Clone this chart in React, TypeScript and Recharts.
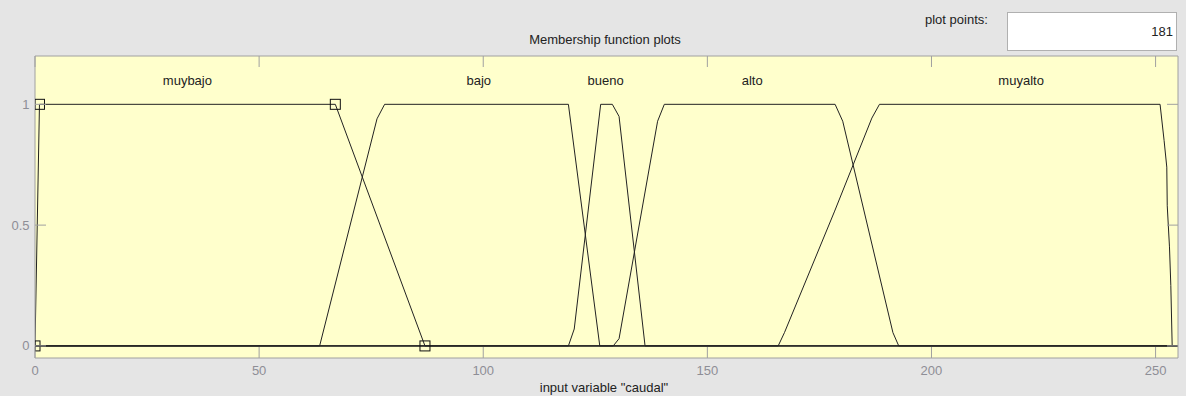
import React from 'react';
import { ComposedChart, Line, Scatter, XAxis, YAxis, CartesianGrid } from 'recharts';

type Pt = { x: number; y: number };

// axis ticks
const xTicks = [0, 50, 100, 150, 200, 250];
const yTicks = [0, 0.5, 1];

// membership functions of "caudal", as polylines (x, degree)
const muybajo: Pt[] = [
  { x: 0, y: 0 }, { x: 1, y: 1 }, { x: 67, y: 1 }, { x: 87, y: 0 }, { x: 255, y: 0 },
];
const bajo: Pt[] = [
  { x: 0, y: 0 }, { x: 63.5, y: 0 }, { x: 76.3, y: 0.94 }, { x: 78, y: 1 },
  { x: 119, y: 1 }, { x: 126, y: 0 }, { x: 255, y: 0 },
];
const bueno: Pt[] = [
  { x: 0, y: 0 }, { x: 119, y: 0 }, { x: 120.3, y: 0.07 }, { x: 126.2, y: 1 },
  { x: 128.8, y: 1 }, { x: 130.3, y: 0.95 }, { x: 136.1, y: 0 }, { x: 255, y: 0 },
];
const alto: Pt[] = [
  { x: 0, y: 0 }, { x: 129, y: 0 }, { x: 130.3, y: 0.03 }, { x: 138.9, y: 0.93 },
  { x: 140.4, y: 1 }, { x: 178.5, y: 1 }, { x: 180.2, y: 0.93 }, { x: 191.4, y: 0.055 },
  { x: 192.7, y: 0 }, { x: 255, y: 0 },
];
const muyalto: Pt[] = [
  { x: 0, y: 0 }, { x: 165.8, y: 0 }, { x: 167.2, y: 0.055 }, { x: 178.4, y: 0.558 },
  { x: 186.7, y: 0.943 }, { x: 188.4, y: 1 }, { x: 251, y: 1 }, { x: 251.9, y: 0.85 },
  { x: 252.5, y: 0.74 }, { x: 252.6, y: 0.58 }, { x: 253.1, y: 0.41 }, { x: 253.4, y: 0.25 },
  { x: 253.7, y: 0 }, { x: 255, y: 0 },
];

// parameters of the selected function (muybajo), shown as square handles
const muybajoParams: Pt[] = [
  { x: 0, y: 0 }, { x: 1, y: 1 }, { x: 67, y: 1 }, { x: 87, y: 0 },
];

const mfNames = ['muybajo', 'bajo', 'bueno', 'alto', 'muyalto'];
const mfNameX = [34, 99, 127.3, 160, 220];
const nameRow = mfNames.map((name, i) => ({ x: mfNameX[i], y: 1.1, name }));

const series = [muybajo, bajo, bueno, alto, muyalto];

const W = 1186;
const H = 396;
const PLOT_LEFT = 35;
const PLOT_RIGHT = 1178;
const PLOT_TOP = 56;
const PLOT_BOTTOM = 358;
const TICK_LEN = 11;

const AXIS = '#a0a0a0';
const TICK_TEXT = '#8e8e96';
const INK = '#222';
const FONT = '"Liberation Sans", Arial, sans-serif';
const FS = 13;

const BottomTick = (props: any) => {
  const { x, payload } = props;
  return (
    <g>
      <line x1={x} x2={x} y1={PLOT_BOTTOM} y2={PLOT_BOTTOM - TICK_LEN} stroke={AXIS} />
      <text x={x} y={PLOT_BOTTOM + 17} textAnchor="middle" fill={TICK_TEXT} fontSize={FS} fontFamily={FONT}>
        {payload.value}
      </text>
    </g>
  );
};

const TopTick = (props: any) => {
  const { x } = props;
  return <line x1={x} x2={x} y1={PLOT_TOP} y2={PLOT_TOP + TICK_LEN} stroke={AXIS} />;
};

const LeftTick = (props: any) => {
  const { y, payload } = props;
  return (
    <g>
      <line x1={PLOT_LEFT} x2={PLOT_LEFT + TICK_LEN} y1={y} y2={y} stroke={AXIS} />
      <text x={PLOT_LEFT - 5.5} y={y + 4.5} textAnchor="end" fill={TICK_TEXT} fontSize={FS} fontFamily={FONT}>
        {payload.value}
      </text>
    </g>
  );
};

const RightTick = (props: any) => {
  const { y } = props;
  return <line x1={PLOT_RIGHT} x2={PLOT_RIGHT - TICK_LEN} y1={y} y2={y} stroke={AXIS} />;
};

// hollow square, clipped at the left edge of the axes
const Handle = (props: any) => {
  const { cx, cy } = props;
  const left = Math.max(cx - 5, PLOT_LEFT);
  const right = cx + 5;
  return <rect x={left} y={cy - 5} width={right - left} height={10} fill="none" stroke="#111" strokeWidth={1} />;
};

const NameLabel = (props: any) => {
  const { cx, cy, payload } = props;
  return (
    <text x={cx} y={cy + 4.5} textAnchor="middle" fill={INK} fontSize={FS} fontFamily={FONT}>
      {payload.name}
    </text>
  );
};

const textRow: React.CSSProperties = {
  position: 'absolute',
  fontSize: FS,
  lineHeight: '16px',
  color: INK,
  whiteSpace: 'nowrap',
};

export default function App() {
  return (
    <div
      style={{
        position: 'absolute',
        left: 0,
        top: 0,
        width: W,
        height: H,
        background: '#e5e5e5',
        fontFamily: FONT,
        overflow: 'hidden',
      }}
    >
      <div style={{ ...textRow, left: 0, width: 1210, top: 32, textAlign: 'center' }}>
        Membership function plots
      </div>
      <div style={{ ...textRow, left: 925, top: 12 }}>plot points:</div>
      <div
        style={{
          position: 'absolute',
          left: 1007,
          top: 12,
          width: 165,
          height: 37,
          background: '#fff',
          border: '1px solid #b0b0b0',
          fontSize: FS,
          color: INK,
          textAlign: 'right',
          lineHeight: '38px',
          paddingRight: 3,
          boxSizing: 'content-box',
        }}
      >
        181
      </div>
      <div style={{ ...textRow, left: 0, width: 1208, top: 380, textAlign: 'center' }}>
        input variable "caudal"
      </div>

      <div style={{ position: 'absolute', left: 0, top: 0 }}>
        <ComposedChart width={W} height={H} margin={{ top: 46, right: 0, bottom: 0, left: 0 }}>
          <CartesianGrid horizontal={false} vertical={false} fill="#ffffcc" fillOpacity={1} />
          <XAxis
            dataKey="x"
            type="number"
            domain={[0, 255]}
            ticks={xTicks}
            height={38}
            tickLine={false}
            axisLine={{ stroke: AXIS }}
            tick={<BottomTick />}
            allowDataOverflow
          />
          <XAxis
            xAxisId="top"
            orientation="top"
            dataKey="x"
            type="number"
            domain={[0, 255]}
            ticks={xTicks}
            height={10}
            tickLine={false}
            axisLine={{ stroke: AXIS }}
            tick={<TopTick />}
            allowDataOverflow
          />
          <YAxis
            dataKey="y"
            type="number"
            domain={[-0.05, 1.2]}
            ticks={yTicks}
            width={35}
            tickLine={false}
            axisLine={{ stroke: AXIS }}
            tick={<LeftTick />}
            allowDataOverflow
          />
          <YAxis
            yAxisId="right"
            orientation="right"
            dataKey="y"
            type="number"
            domain={[-0.05, 1.2]}
            ticks={yTicks}
            width={8}
            tickLine={false}
            axisLine={{ stroke: AXIS }}
            tick={<RightTick />}
            allowDataOverflow
          />
          {series.map((pts, i) => (
            <Line
              key={mfNames[i]}
              data={pts}
              dataKey="y"
              type="linear"
              stroke={INK}
              strokeWidth={1}
              dot={false}
              activeDot={false}
              isAnimationActive={false}
            />
          ))}
          <Scatter data={muybajoParams} dataKey="y" shape={<Handle />} isAnimationActive={false} />
          <Scatter data={nameRow} dataKey="y" shape={<NameLabel />} isAnimationActive={false} />
        </ComposedChart>
      </div>
    </div>
  );
}
